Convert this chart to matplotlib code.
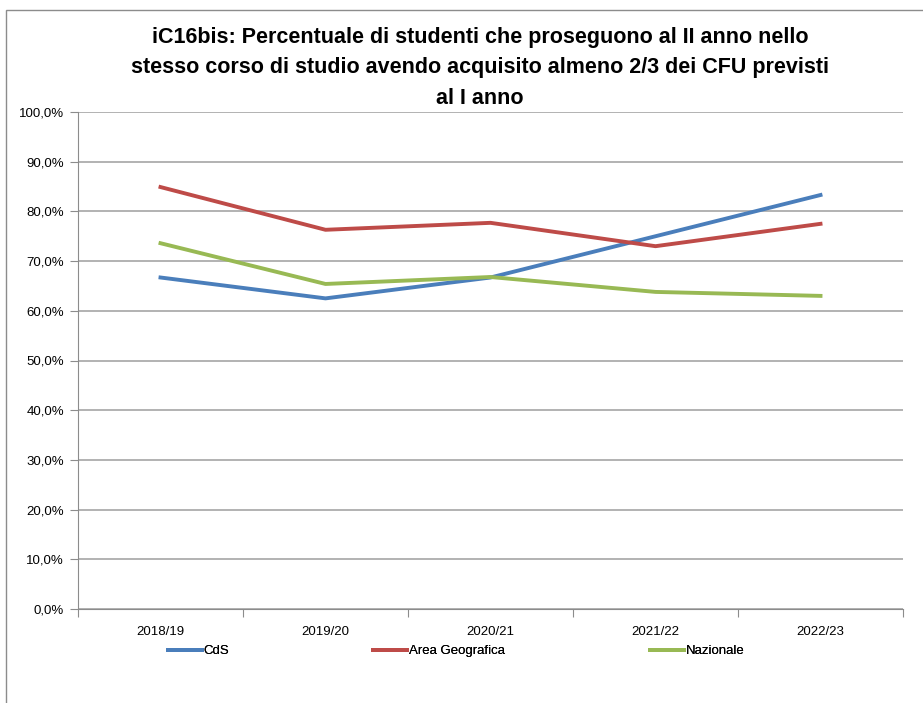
import matplotlib as mpl
mpl.rcParams['font.family'] = ['Liberation Sans Narrow', 'Liberation Sans', 'DejaVu Sans']
from matplotlib import pyplot as plt
from matplotlib.ticker import FuncFormatter
from matplotlib.patches import Rectangle

anni = ["2018/19", "2019/20", "2020/21", "2021/22", "2022/23"]
cds = [66.7, 62.5, 66.7, 75.0, 83.3]
area_geo = [84.9, 76.3, 77.7, 73.0, 77.5]
nazionale = [73.6, 65.4, 66.8, 63.8, 63.0]

fig = plt.figure(figsize=(9.23, 7.03), dpi=100)
# bordo del grafico (stile Excel)
fig.patches.append(Rectangle((6 / 923, -0.01), 1.2, 1 - 10 / 703 + 0.01, transform=fig.transFigure,
                             fill=False, edgecolor='#8c8c8c', linewidth=1.0))

ax = fig.add_axes([78 / 923, 1 - 609 / 703, 825 / 923, 497 / 703])
x = range(len(anni))
l1, = ax.plot(x, cds, color='#4A7EBB', linewidth=2.8, label='CdS')
l2, = ax.plot(x, area_geo, color='#BE4B48', linewidth=2.8, label='Area Geografica')
l3, = ax.plot(x, nazionale, color='#98B954', linewidth=2.8, label='Nazionale')

ax.set_xlim(-0.5, len(anni) - 0.5)
ax.set_ylim(0, 100)
ax.set_yticks(range(0, 101, 10))
ax.yaxis.set_major_formatter(FuncFormatter(lambda v, p: ("%.1f%%" % v).replace('.', ',')))
ax.set_xticks([i - 0.5 for i in range(len(anni) + 1)])
ax.set_xticklabels([])
ax.set_xticks(list(x), minor=True)
ax.set_xticklabels(anni, minor=True)
ax.tick_params(axis='x', which='minor', length=0, pad=12, labelsize=9.5)
ax.tick_params(axis='x', which='major', length=6, color='#8c8c8c')
ax.tick_params(axis='y', length=6, color='#8c8c8c', labelsize=9.5, pad=4)
ax.grid(axis='y', color='#a6a6a6', linewidth=1.2)
ax.set_axisbelow(True)
for s in ['top', 'right']:
    ax.spines[s].set_visible(False)
for s in ['left', 'bottom']:
    ax.spines[s].set_color('#8c8c8c')

titolo = ["iC16bis: Percentuale di studenti che proseguono al II anno nello",
          "stesso corso di studio avendo acquisito almeno 2/3 dei CFU previsti",
          "al I anno"]
for i, riga in enumerate(titolo):
    fig.text(480 / 923, 1 - (37 + 31 * i) / 703, riga, ha='center', va='center',
             fontsize=15.5, fontweight='bold')

# legenda: tre voci posizionate separatamente
for linea, xpos in [(l1, 164), (l2, 369), (l3, 646)]:
    leg = fig.legend(handles=[linea], loc='center left', bbox_to_anchor=(xpos / 923, 1 - 651 / 703),
                     frameon=False, fontsize=9.5, handlelength=2.6, handletextpad=0.1,
                     borderaxespad=0, borderpad=0.3)
    fig.add_artist(leg)

plt.savefig('out.png')
